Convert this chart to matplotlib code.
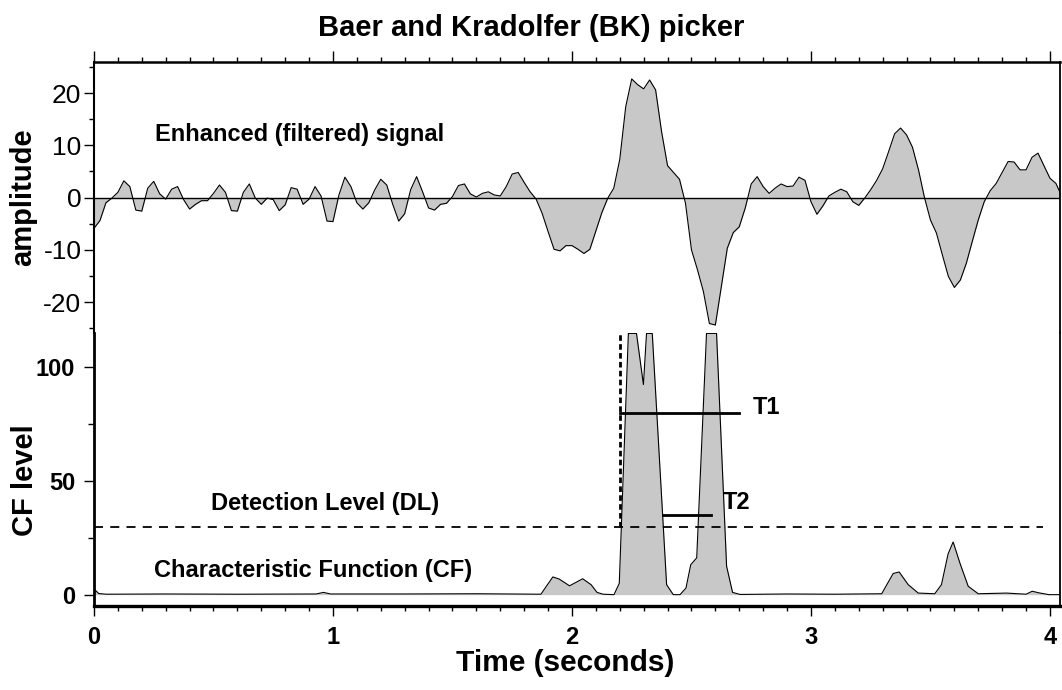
import matplotlib
matplotlib.use('Agg')
import matplotlib.pyplot as plt
import numpy as np
from matplotlib.ticker import MultipleLocator

plt.rcParams['font.family'] = ['Liberation Sans', 'DejaVu Sans']
plt.rcParams['axes.unicode_minus'] = False

# filtered signal, sampled every 25 ms
dt = 0.025
signal = [
    -5.9, -4.4, -1.0, -0.1, 1.0, 3.2, 2.1, -2.4, -2.6, 1.8,
    3.1, 0.7, -0.3, 1.6, 2.1, -0.4, -2.2, -1.3, -0.6, -0.6,
    0.8, 2.4, 1.0, -2.5, -2.6, 1.0, 2.6, -0.1, -1.3, -0.1,
    -0.4, -2.5, -1.4, 1.9, 1.6, -1.3, -0.3, 2.1, 0.3, -4.5,
    -4.6, 0.5, 3.9, 2.1, -1.0, -2.2, -1.0, 1.5, 3.5, 2.4,
    -1.3, -4.5, -3.1, 1.5, 4.0, 1.1, -2.0, -2.4, -1.3, -1.1,
    0.2, 2.3, 2.6, 0.7, 0.1, 0.8, 1.1, 0.5, 0.3, 2.1,
    4.5, 4.8, 2.9, 1.1, -0.3, -3.0, -6.5, -9.9, -10.2, -9.2,
    -9.2, -9.9, -10.7, -9.9, -6.4, -2.9, -0.1, 1.8, 7.3, 17.4,
    22.7, 21.6, 20.8, 22.5, 20.6, 12.6, 6.1, 4.8, 3.5, -1.1,
    -10.0, -13.8, -18.0, -24.1, -24.4, -17.0, -9.7, -6.7, -5.6, -2.0,
    2.6, 4.0, 2.1, 0.8, 1.8, 2.6, 2.1, 2.2, 3.9, 3.3,
    -0.8, -3.2, -1.6, 0.3, 1.0, 1.6, 1.1, -0.8, -1.5, -0.1,
    1.5, 3.3, 5.5, 8.8, 12.2, 13.3, 12.0, 9.6, 5.3, 0.0,
    -4.3, -6.8, -11.0, -15.1, -17.2, -15.8, -12.6, -8.4, -4.3, -0.8,
    1.3, 2.7, 4.8, 6.9, 6.8, 5.3, 5.3, 7.7, 8.5, 6.1,
    3.7, 2.7, 0.2,
]
time = np.arange(len(signal)) * dt

# characteristic function (clipped at the top of the panel)
cf_time = [0.0, 0.02, 0.05, 0.3, 0.6, 0.93, 0.96, 0.99, 1.3, 1.6,
           1.87, 1.92, 1.946, 1.99, 2.045, 2.08, 2.105, 2.13, 2.176, 2.198,
           2.236, 2.27, 2.299, 2.312, 2.336, 2.396, 2.424, 2.452, 2.477, 2.497,
           2.522, 2.563, 2.605, 2.647, 2.672, 2.703, 2.9, 3.1, 3.296, 3.344,
           3.369, 3.407, 3.449, 3.518, 3.546, 3.574, 3.595, 3.623, 3.658, 3.7,
           3.818, 3.9, 3.926, 3.954, 3.996, 4.045]
cf_level = [2.5, 0.5, 0.2, 0.3, 0.2, 0.3, 1.0, 0.3, 0.3, 0.4,
            0.2, 7.8, 6.9, 3.9, 7.0, 4.4, 1.0, 0.2, 0.0, 5.0,
            115, 115, 92.5, 115, 115, 4.4, 0.0, 0.0, 2.9, 13.2,
            16.2, 115, 115, 12.5, 1.0, 0.1, 0.3, 0.2, 0.4, 9.3,
            10.0, 4.4, 0.7, 0.4, 4.4, 18.0, 23.2, 14.0, 3.7, 0.4,
            0.7, 0.2, 1.5, 0.8, 0.0, 0.0]

detection_level = 30
dl_end = 3.97
pick_time = 2.2
t1_end, t1_level = 2.7, 80
t2_start, t2_end, t2_level = 2.38, 2.58, 35

gray = '#c8c8c8'

fig = plt.figure(figsize=(10.62, 6.90), dpi=100)
ax1 = fig.add_axes([0.0885, 0.5168, 0.9096, 0.3938])
ax2 = fig.add_axes([0.0885, 0.1217, 0.9096, 0.3951])

# top panel: enhanced signal
ax1.fill_between(time, signal, 0, color=gray, lw=0)
ax1.plot(time, signal, color='k', lw=0.8)
ax1.axhline(0, color='k', lw=1)
ax1.set_xlim(0, 4.042)
ax1.set_ylim(-26, 26)
ax1.set_yticks([-20, -10, 0, 10, 20])
ax1.yaxis.set_minor_locator(MultipleLocator(5))
ax1.set_xticks([0, 1, 2, 3, 4])
ax1.xaxis.set_minor_locator(MultipleLocator(0.1))
ax1.xaxis.tick_top()
ax1.tick_params(axis='x', which='both', direction='out', labeltop=False, width=1)
ax1.tick_params(axis='x', which='major', length=8)
ax1.tick_params(axis='x', which='minor', length=3.5)
ax1.tick_params(axis='y', which='major', length=7, width=1, labelsize=19, pad=2)
ax1.tick_params(axis='y', which='minor', length=3.5, width=1)
ax1.spines['bottom'].set_visible(False)
ax1.spines['top'].set_linewidth(1.8)
ax1.spines['left'].set_linewidth(1.5)
ax1.spines['right'].set_linewidth(1.3)
ax1.text(0.254, 12, 'Enhanced (filtered) signal', fontsize=17, fontweight='bold', va='center')
ax1.set_ylabel('amplitude', fontsize=21, fontweight='bold')
ax1.yaxis.set_label_coords(-0.059, 0.5)

# bottom panel: characteristic function
ax2.fill_between(cf_time, cf_level, 0, color=gray, lw=0)
ax2.plot(cf_time, cf_level, color='k', lw=0.8)
ax2.plot([0, dl_end], [detection_level, detection_level], color='k', lw=1.3, dashes=(5, 4))
ax2.plot([pick_time, pick_time], [detection_level, 115], color='k', lw=2, dashes=(2, 1.2))
ax2.plot([pick_time, t1_end], [t1_level, t1_level], color='k', lw=2)
ax2.plot([t2_start, t2_end], [t2_level, t2_level], color='k', lw=2)
ax2.text(t1_end + 0.057, t1_level + 2.5, 'T1', fontsize=17, fontweight='bold', va='center')
ax2.text(2.63, 40.4, 'T2', fontsize=17, fontweight='bold', va='center')
ax2.text(0.49, 40.3, 'Detection Level (DL)', fontsize=17, fontweight='bold', va='center')
ax2.text(0.25, 10.7, 'Characteristic Function (CF)', fontsize=17, fontweight='bold', va='center')

ax2.set_xlim(0, 4.042)
ax2.set_ylim(-5, 115)
ax2.set_xticks([0, 1, 2, 3, 4])
ax2.xaxis.set_minor_locator(MultipleLocator(0.1))
ax2.set_yticks([0, 50, 100])
ax2.yaxis.set_minor_locator(MultipleLocator(25))
ax2.tick_params(axis='x', which='major', direction='out', length=7.5, width=1, labelsize=17, pad=7)
ax2.tick_params(axis='x', which='minor', direction='out', length=3.5, width=1)
ax2.tick_params(axis='y', which='major', direction='out', length=7, width=1, labelsize=17, pad=6.5)
ax2.tick_params(axis='y', which='minor', direction='out', length=4, width=1)
plt.setp(ax2.get_xticklabels(), fontweight='bold')
plt.setp(ax2.get_yticklabels(), fontweight='bold')
ax2.spines['top'].set_visible(False)
ax2.spines['bottom'].set_linewidth(2.4)
ax2.spines['left'].set_linewidth(2)
ax2.spines['right'].set_linewidth(1.3)
ax2.set_xlabel('Time (seconds)', fontsize=21.5, fontweight='bold')
ax2.xaxis.set_label_coords(0.4876, -0.158)
ax2.set_ylabel('CF level', fontsize=21, fontweight='bold')
ax2.yaxis.set_label_coords(-0.057, 0.463)

fig.text(0.5, 0.9478, 'Baer and Kradolfer (BK) picker', ha='center', va='baseline',
         fontsize=21, fontweight='bold')

fig.savefig('out.png', dpi=100)
